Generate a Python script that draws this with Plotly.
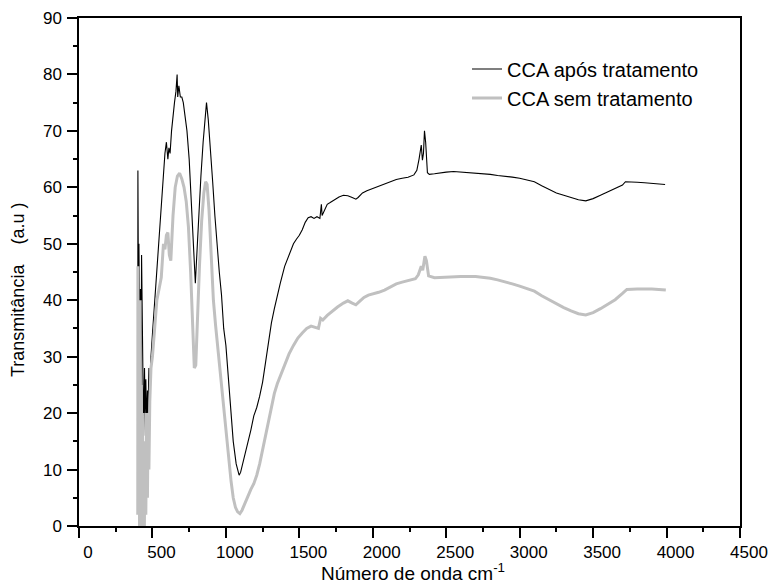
import plotly.graph_objects as go

# CCA após tratamento (black)
wn_a = [400, 401, 404, 408, 412, 418, 422, 426, 430, 436, 440, 446, 450, 455, 460, 466, 470, 476, 482, 490,
        500, 510, 520, 535, 550, 565, 575, 585, 595, 605, 612, 620, 630, 640, 650, 660, 668, 672, 680, 690,
        700, 710, 720, 735, 750, 765, 780, 792, 800, 815, 830, 845, 858, 868, 880, 895, 910, 925, 940, 955,
        970, 985, 1000, 1015, 1030, 1050, 1070, 1090, 1100, 1115, 1130, 1150, 1170, 1190, 1210, 1230, 1250,
        1270, 1290, 1310, 1330, 1350, 1370, 1400, 1430, 1460, 1480, 1500, 1520, 1540, 1560, 1580, 1600, 1620,
        1640, 1650, 1655, 1670, 1690, 1710, 1740, 1770, 1800, 1830, 1860, 1885, 1900, 1930, 1960, 2000, 2040,
        2080, 2120, 2160, 2200, 2240, 2280, 2300, 2315, 2330, 2338, 2345, 2352, 2360, 2372, 2385, 2420, 2460,
        2500, 2550, 2600, 2650, 2700, 2750, 2800, 2850, 2900, 2950, 3000, 3050, 3100, 3150, 3200, 3250, 3300,
        3350, 3400, 3450, 3500, 3550, 3600, 3650, 3700, 3720, 3750, 3800, 3850, 3900, 3950, 3990]
t_a = [14, 63, 45, 50, 35, 42, 22, 48, 30, 25, 16, 28, 20, 26, 18, 24, 20, 28, 22, 30,
       34, 38, 42, 48, 54, 58, 63, 66, 68, 65, 67, 66, 70, 73, 75, 77, 80, 76, 78, 76,
       76, 75, 73, 70, 65, 58, 50, 43, 47, 55, 62, 68, 72, 75, 72, 67, 61, 55, 49, 45,
       41, 35, 32, 27, 21, 15, 11, 9, 9.5, 11, 13, 15, 17, 19.5, 21, 23, 25.5,
       29, 32.5, 36, 38.5, 41, 43, 46, 48, 50, 50.8, 51.5, 52.5, 53.8, 54.6, 54.8, 54.5, 54.8,
       54.5, 57, 55, 56, 57, 57.3, 57.8, 58.3, 58.6, 58.5, 58.2, 57.9, 58.2, 59, 59.4, 59.8, 60.1,
       60.5, 61, 61.4, 61.6, 61.8, 62.2, 63, 65, 67.5, 64.8, 66, 70, 68, 62.6, 62.3, 62.4, 62.6,
       62.7, 62.8, 62.7, 62.6, 62.6, 62.5, 62.3, 62.1, 62, 61.8, 61.6, 61.3, 61, 60.3, 59.6, 59, 58.6,
       58.2, 57.8, 57.6, 58, 58.6, 59.2, 59.7, 60.4, 61, 61, 60.9, 60.8, 60.7, 60.6, 60.5]

# CCA sem tratamento (gray)
wn_b = [400, 401, 404, 408, 412, 416, 420, 424, 428, 432, 436, 440, 445, 450, 455, 460, 466, 470, 476, 482,
        490, 500, 515, 530, 545, 560, 575, 585, 595, 605, 615, 625, 640, 655, 670, 685, 700, 715, 730, 745,
        760, 772, 785, 795, 805, 820, 835, 850, 862, 872, 885, 900, 915, 930, 945, 960, 975, 990, 1005, 1020,
        1035, 1050, 1065, 1080, 1095, 1110, 1130, 1150, 1170, 1190, 1210, 1230, 1250, 1270, 1290, 1310, 1330, 1350,
        1370, 1400, 1430, 1460, 1490, 1520, 1550, 1580, 1610, 1630, 1645, 1660, 1690, 1720, 1760, 1800, 1830,
        1860, 1885, 1910, 1940, 1970, 2000, 2040, 2080, 2120, 2160, 2200, 2250, 2290, 2310, 2330, 2340, 2355,
        2365, 2380, 2420, 2500, 2600, 2700, 2750, 2800, 2850, 2900, 2950, 3000, 3050, 3100, 3150, 3200, 3250,
        3300, 3350, 3400, 3450, 3500, 3550, 3600, 3650, 3700, 3730, 3800, 3900, 3995]
t_b = [2, 46, 10, 30, 0, 40, 5, 25, 0, 20, 0, 12, 0, 15, 2, 20, 5, 18, 10, 22,
       28, 30, 36, 40, 42, 44, 50, 49, 51.5, 52, 48, 47, 55, 60, 62, 62.5, 61.5, 60, 57.5, 53,
       45, 35, 28, 28.5, 36, 46, 54, 59, 61, 60.5, 56, 48, 40, 35.5, 31.5, 27.5, 23.5, 20, 16, 12,
       8, 5, 3.3, 2.5, 2.2, 2.8, 4, 5.5, 6.5, 7.5, 9, 11, 13.5, 16, 19, 21.5, 23.5, 25.2,
       26.5, 28.5, 30.5, 32, 33.3, 34.2, 35, 35.4, 35.2, 35, 36.8, 36.5, 37.3, 38, 38.8, 39.5, 39.9,
       39.5, 39.2, 39.8, 40.5, 40.9, 41.1, 41.4, 41.8, 42.4, 42.9, 43.2, 43.5, 43.8, 44.5, 46, 45.3, 47.8,
       47, 44.3, 44, 44.1, 44.2, 44.2, 44.1, 43.9, 43.6, 43.3, 42.9, 42.5, 42.1, 41.6, 40.8, 40.1, 39.3,
       38.7, 38.1, 37.6, 37.4, 37.8, 38.5, 39.3, 40.1, 41.2, 41.9, 42, 42, 41.8]

x_ticks = [0, 500, 1000, 1500, 2000, 2500, 3000, 3500, 4000, 4500]
y_ticks = [0, 10, 20, 30, 40, 50, 60, 70, 80, 90]

FONT = "Liberation Sans, Arial, sans-serif"

fig = go.Figure()
fig.add_trace(go.Scatter(x=wn_a, y=t_a, mode="lines", name="CCA após tratamento",
                         line=dict(color="#000000", width=1.1)))
fig.add_trace(go.Scatter(x=wn_b, y=t_b, mode="lines", name="CCA sem tratamento",
                         line=dict(color="#c0c0c0", width=3)))

axis_common = dict(
    showline=True, linecolor="black", linewidth=1.5, mirror=True,
    ticks="outside", ticklen=10, tickwidth=1.5, tickcolor="black",
    showgrid=False, zeroline=False, automargin=False,
    tickfont=dict(family=FONT, size=17, color="black"),
)

fig.update_layout(
    width=768, height=584,
    margin=dict(l=79, r=28, t=18, b=58, autoexpand=False),
    paper_bgcolor="white", plot_bgcolor="white",
    font=dict(family=FONT, color="black"),
    xaxis=dict(range=[0, 4500], tickvals=x_ticks, ticktext=[str(v) for v in x_ticks],
               ticklabelshift=9,
               minor=dict(ticks="outside", ticklen=4, tickwidth=1.5, tickcolor="black", dtick=250),
               **axis_common),
    yaxis=dict(range=[0, 90], tickvals=y_ticks, ticktext=[str(v) for v in y_ticks],
               ticklabelstandoff=2,
               minor=dict(ticks="outside", ticklen=4, tickwidth=1.5, tickcolor="black", dtick=5),
               **axis_common),
    annotations=[
        dict(text="Transmitância    (a.u )", xref="paper", yref="paper",
             x=-0.0923, y=0.4646, xanchor="center", yanchor="middle",
             textangle=-90, showarrow=False,
             font=dict(family=FONT, size=18, color="black")),
        dict(text="Número de onda cm<sup>-1</sup>", xref="paper", yref="paper",
             x=0.505, y=-0.0905, xanchor="center", yanchor="middle",
             showarrow=False,
             font=dict(family=FONT, size=19, color="black")),
    ],
    legend=dict(x=0.587, y=0.938, xanchor="left", yanchor="top",
                bgcolor="rgba(0,0,0,0)", font=dict(family=FONT, size=20, color="black")),
    showlegend=True,
)

fig.write_html("out.html")
